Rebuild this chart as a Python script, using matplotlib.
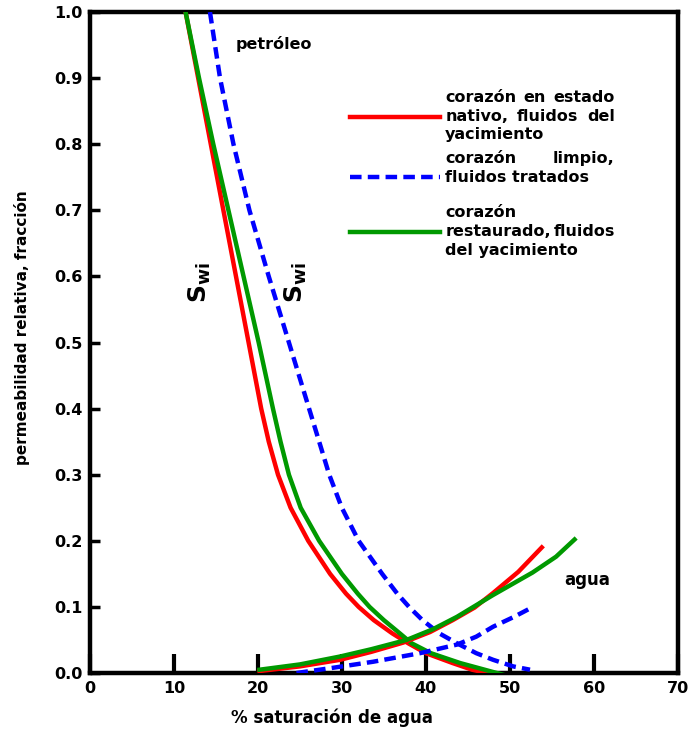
import matplotlib
matplotlib.use("Agg")
import matplotlib.pyplot as plt

plt.rcParams['font.family'] = ['DejaVu Sans']
plt.rcParams['font.weight'] = 'bold'

# Oil relative permeability curves (x = % water saturation, y = kr)
red_oil_x = [11.4, 12.9, 14.4, 15.9, 17.4, 18.9, 20.4, 21.3, 22.4, 23.9, 26.0, 28.6, 30.5,
             32.0, 33.8, 36.0, 37.9, 40.0, 43.2, 45.5, 47.3]
red_oil_y = [1.00, 0.90, 0.80, 0.70, 0.60, 0.50, 0.40, 0.35, 0.30, 0.25, 0.20, 0.15, 0.12,
             0.10, 0.08, 0.06, 0.045, 0.03, 0.015, 0.005, 0.0]
green_oil_x = [11.4, 13.0, 14.7, 16.5, 18.3, 20.1, 21.8, 22.7, 23.7, 25.1, 27.3, 30.0, 31.9,
               33.3, 35.0, 36.9, 38.3, 40.6, 44.1, 47.0, 49.6]
green_oil_y = [1.00, 0.90, 0.80, 0.70, 0.60, 0.50, 0.40, 0.35, 0.30, 0.25, 0.20, 0.15, 0.12,
               0.10, 0.08, 0.06, 0.045, 0.03, 0.015, 0.005, -0.004]
blue_oil_x = [14.3, 15.5, 17.1, 19.0, 21.3, 23.7, 26.1, 28.5, 30.0, 32.0, 34.8, 36.6, 38.0,
              39.6, 41.6, 43.7, 46.0, 48.0, 50.4, 52.4]
blue_oil_y = [1.00, 0.90, 0.80, 0.70, 0.60, 0.50, 0.40, 0.30, 0.25, 0.20, 0.15, 0.12, 0.10,
              0.08, 0.06, 0.045, 0.03, 0.02, 0.01, 0.005]

# Water relative permeability curves
red_w_x = [20.2, 25.0, 29.8, 33.5, 37.3, 40.5, 43.2, 45.8, 48.0, 51.0, 53.8]
red_w_y = [0.003, 0.010, 0.020, 0.032, 0.046, 0.062, 0.080, 0.099, 0.121, 0.153, 0.190]
green_w_x = [20.2, 25.0, 29.8, 33.5, 37.7, 40.8, 43.7, 48.0, 52.7, 55.5, 57.7]
green_w_y = [0.005, 0.013, 0.025, 0.036, 0.050, 0.066, 0.085, 0.118, 0.152, 0.176, 0.202]
blue_w_x = [24.6, 29.0, 33.7, 39.3, 43.7, 46.0, 48.0, 50.5, 52.6]
blue_w_y = [0.0, 0.008, 0.017, 0.030, 0.043, 0.055, 0.070, 0.085, 0.099]

x_ticks = [0, 10, 20, 30, 40, 50, 60, 70]
y_ticks = [0.0, 0.1, 0.2, 0.3, 0.4, 0.5, 0.6, 0.7, 0.8, 0.9, 1.0]

legend_red = ["corazón en estado", "nativo, fluidos del", "yacimiento"]
legend_blue = ["corazón limpio,", "fluidos tratados"]
legend_green = ["corazón", "restaurado, fluidos", "del yacimiento"]

RED, GREEN, BLUE = '#ff0000', '#009900', '#0000ff'
DASH = (0, (2.6, 1.4))
FS = 11.5

fig = plt.figure(figsize=(6.91, 7.29), dpi=100)
ax = fig.add_axes([0.130, 0.0768, 0.851, 0.9067])

lw = 3.2
kw = dict(lw=lw, zorder=3, solid_joinstyle='round', dash_joinstyle='round')
ax.plot(red_oil_x, red_oil_y, color=RED, **kw)
ax.plot(green_oil_x, green_oil_y, color=GREEN, **kw)
ax.plot(blue_oil_x, blue_oil_y, color=BLUE, ls=DASH, **kw)
ax.plot(red_w_x, red_w_y, color=RED, **kw)
ax.plot(green_w_x, green_w_y, color=GREEN, **kw)
ax.plot(blue_w_x, blue_w_y, color=BLUE, ls=DASH, **kw)

ax.set_xlim(0, 70)
ax.set_ylim(0, 1.0)
ax.set_xticks(x_ticks)
ax.set_yticks(y_ticks)
ax.set_xticklabels([str(v) for v in x_ticks], fontsize=FS, fontweight='bold')
ax.set_yticklabels([f"{v:.1f}" for v in y_ticks], fontsize=FS, fontweight='bold')
ax.tick_params(axis='x', direction='in', length=14, width=3, pad=6)
ax.tick_params(axis='y', direction='in', length=7, width=2.5, pad=5)
for s in ax.spines.values():
    s.set_linewidth(3.2)

ax.text(28.8, -0.067, "% saturación de agua", ha='center', va='center',
        fontsize=12, fontweight='bold', clip_on=False)
ax.text(-0.116, 0.522, "permeabilidad relativa, fracción", transform=ax.transAxes,
        rotation=90, ha='center', va='center', fontsize=11, fontweight='bold')

ax.text(17.3, 0.951, "petróleo", fontsize=FS, fontweight='bold', ha='left', va='center')
ax.text(56.5, 0.141, "agua", fontsize=12, fontweight='bold', ha='left', va='center')

ax.text(13.1, 0.59, "S$_{\\mathbf{wi}}$", rotation=90, fontsize=18, fontweight='bold',
        ha='center', va='center')
ax.text(24.5, 0.59, "S$_{\\mathbf{wi}}$", rotation=90, fontsize=18, fontweight='bold',
        ha='center', va='center')


def yv(px):
    return (673 - px) / 661.0


# legend keys
lx0, lx1 = 31.0, 41.7
ax.plot([lx0, lx1], [yv(117), yv(117)], color=RED, lw=lw)
ax.plot([lx0, lx1], [yv(177), yv(177)], color=BLUE, lw=lw, ls=DASH)
ax.plot([lx0, lx1], [yv(232), yv(232)], color=GREEN, lw=lw)

# justified legend text
tx0, tx1 = 42.3, 62.5
renderer = fig.canvas.get_renderer()
inv = ax.transData.inverted()


def place_line(text, y, justify):
    words = text.split()
    if not justify or len(words) == 1:
        ax.text(tx0, y, text, fontsize=FS, fontweight='bold', ha='left', va='center')
        return
    objs = [ax.text(tx0, y, w, fontsize=FS, fontweight='bold', ha='left', va='center')
            for w in words]
    widths = []
    for o in objs:
        bb = o.get_window_extent(renderer)
        p0 = inv.transform((bb.x0, bb.y0))
        p1 = inv.transform((bb.x1, bb.y0))
        widths.append(p1[0] - p0[0])
    gap = (tx1 - tx0 - sum(widths)) / (len(words) - 1)
    xpos = tx0
    for o, w in zip(objs, widths):
        o.set_x(xpos)
        xpos += w + gap


for lines, tops in ((legend_red, [97, 116, 134]), (legend_blue, [158, 177]),
                    (legend_green, [212, 231, 250])):
    for i, (t, py) in enumerate(zip(lines, tops)):
        place_line(t, yv(py), justify=(i < len(lines) - 1))

fig.savefig("out.png", dpi=100)
